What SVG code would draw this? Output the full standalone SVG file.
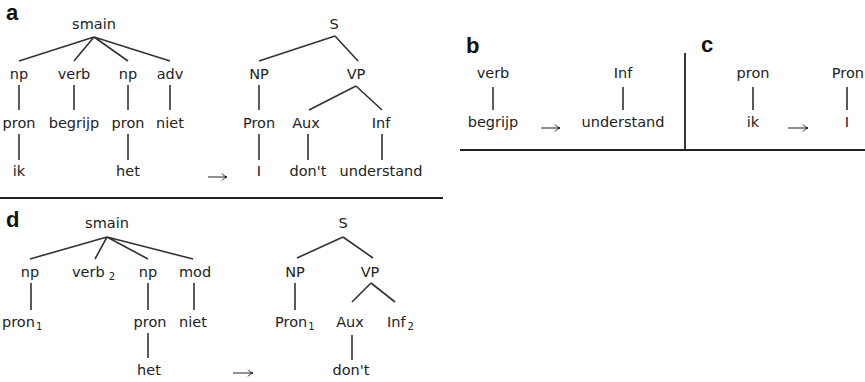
<svg xmlns="http://www.w3.org/2000/svg" width="865" height="382" viewBox="0 0 865 382">
<style>
text{font-family:"DejaVu Sans","Verdana",sans-serif;font-size:14.5px;fill:#222;text-anchor:middle}
text.s{text-anchor:start}
text.en{text-anchor:end}
text.lab{font-family:"Liberation Sans",Arial,sans-serif;font-weight:bold;font-size:22px;fill:#111;text-anchor:start}
tspan.sub{font-size:10px}
.e{stroke:#333;stroke-width:1.6;fill:none}
.rule{stroke:#222;stroke-width:1.8;fill:none}
.arr{stroke:#222;stroke-width:1;fill:none}
</style>
<rect width="865" height="382" fill="#fff"/>

<g id="rules">
<line class="rule" x1="0" y1="198" x2="443" y2="198"/>
<line class="rule" x1="460" y1="150" x2="865" y2="150"/>
<line class="rule" x1="685" y1="53" x2="685" y2="150"/>
</g>

<g id="labels">
<text class="lab" x="6" y="20">a</text>
<text class="lab" x="466" y="53">b</text>
<text class="lab" x="701" y="52">c</text>
<text class="lab" x="6" y="227">d</text>
</g>

<g id="connectors">
<path class="e" d="M94 37L19 61M94 37L74 61M94 37L128 61M94 37L170 61"/>
<path class="e" d="M19 85V110M74 85V110M128 85V110M170 85V110M19 134V160M128 134V160"/>
<path class="e" d="M335 36L259 61M335 36L358 61M259 85V110M356 86L309 110M356 86L382 110M259 134V160M308 134V160M382 134V160"/>
<path class="e" d="M493 87V110M623 87V110M753 87V110M847 87V110"/>
<path class="e" d="M107 237L30 259M107 237L95 259M107 237L148 259M107 237L193 259"/>
<path class="e" d="M31 283V310M148 283V310M194 283V310M148 333V358"/>
<path class="e" d="M343 237L297 258M343 237L373 258M295 283V310M371 283L352 302M371 283L395 302M352 335V360"/>
<path class="arr" d="M208 177H227M222 173.5Q224 176.5 227 177Q224 177.5 222 180.5"/>
<path class="arr" d="M541 128H560M555 124.5Q557 127.5 560 128Q557 128.5 555 131.5"/>
<path class="arr" d="M788 128H808M803 124.5Q805 127.5 808 128Q805 128.5 803 131.5"/>
<path class="arr" d="M233 373H253M248 369.5Q250 372.5 253 373Q250 373.5 248 376.5"/>
</g>

<g id="tree-a-dutch">
<text x="94" y="29">smain</text>
<text x="19" y="79">np</text>
<text x="74" y="79">verb</text>
<text x="128" y="79">np</text>
<text x="170" y="79">adv</text>
<text x="19" y="128">pron</text>
<text x="74" y="128">begrijp</text>
<text x="128" y="128">pron</text>
<text x="170" y="128">niet</text>
<text x="19" y="176">ik</text>
<text x="128" y="176">het</text>
</g>

<g id="tree-a-english">
<text x="334" y="29">S</text>
<text x="259" y="79">NP</text>
<text x="356" y="79">VP</text>
<text x="259" y="128">Pron</text>
<text x="306" y="128">Aux</text>
<text x="381" y="128">Inf</text>
<text x="259" y="176">I</text>
<text x="308" y="176">don't</text>
<text x="381" y="176">understand</text>
</g>

<g id="tree-b">
<text x="493" y="78">verb</text>
<text x="493" y="127">begrijp</text>
<text x="623" y="78">Inf</text>
<text x="623" y="127">understand</text>
</g>

<g id="tree-c">
<text x="753" y="78">pron</text>
<text x="753" y="127">ik</text>
<text class="en" x="864" y="78">Pron</text>
<text x="847" y="127">I</text>
</g>

<g id="tree-d-dutch">
<text x="107" y="228">smain</text>
<text x="30" y="277">np</text>
<text class="s" x="72" y="277">verb<tspan class="sub" dx="4" dy="3">2</tspan></text>
<text x="148" y="277">np</text>
<text x="195" y="277">mod</text>
<text class="s" x="2" y="327">pron<tspan class="sub" dx="1" dy="3">1</tspan></text>
<text x="150" y="327">pron</text>
<text x="193" y="327">niet</text>
<text x="149" y="375">het</text>
</g>

<g id="tree-d-english">
<text x="343" y="228">S</text>
<text x="295" y="277">NP</text>
<text x="370" y="277">VP</text>
<text class="s" x="275" y="327">Pron<tspan class="sub" dx="1" dy="3">1</tspan></text>
<text x="350" y="327">Aux</text>
<text class="s" x="387" y="327">Inf<tspan class="sub" dx="2" dy="3">2</tspan></text>
<text x="351" y="375">don't</text>
</g>
</svg>
